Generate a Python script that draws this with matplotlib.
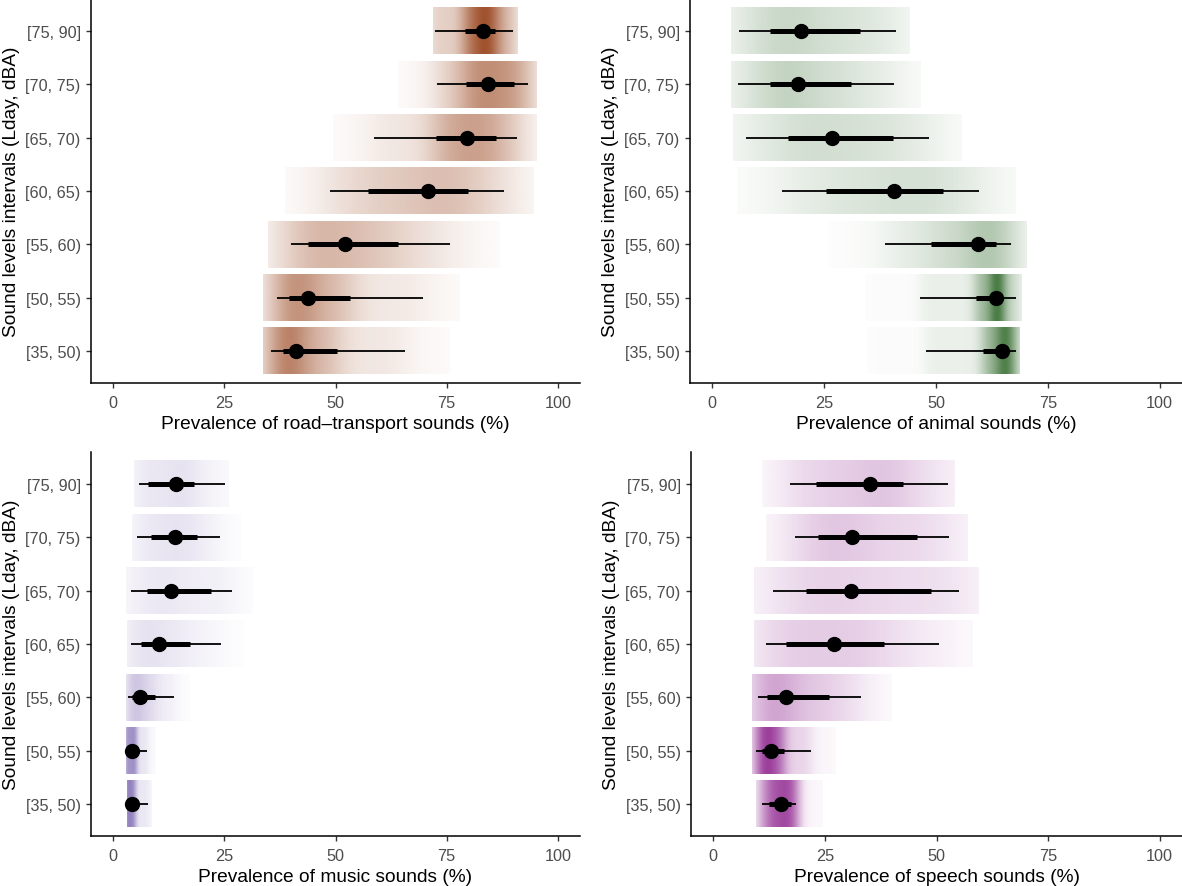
import numpy as np
import matplotlib
matplotlib.use("Agg")
import matplotlib.pyplot as plt
from matplotlib.colors import to_rgb

plt.rcParams['font.family'] = ['Liberation Sans', 'DejaVu Sans']

# sound level intervals, top row first
levels = ["[75, 90]", "[70, 75)", "[65, 70)", "[60, 65)", "[55, 60)", "[50, 55)", "[35, 50)"]

# road-transport
road_med = [83.1, 84.4, 79.6, 70.9, 52.1, 43.8, 41.2]
road_lo66 = [79.2, 79.3, 72.6, 57.3, 43.8, 39.6, 38.3]
road_hi66 = [85.9, 90.1, 86.0, 79.8, 64.0, 53.3, 50.4]
road_lo95 = [72.3, 72.8, 58.6, 48.7, 40.1, 36.8, 35.5]
road_hi95 = [89.9, 93.3, 90.8, 87.9, 75.7, 69.7, 65.6]
road_min = [72.0, 64.1, 49.4, 38.6, 34.9, 33.8, 33.8]
road_max = [91.1, 95.3, 95.1, 94.5, 87.0, 78.1, 75.8]

# animal
animal_med = [19.9, 19.2, 26.8, 40.6, 59.3, 63.4, 64.7]
animal_lo66 = [12.8, 12.8, 16.8, 25.5, 48.8, 58.9, 60.6]
animal_hi66 = [33.0, 30.9, 40.3, 51.6, 63.5, 64.1, 66.1]
animal_lo95 = [5.9, 5.7, 7.6, 15.6, 38.7, 46.5, 47.7]
animal_hi95 = [41.0, 40.5, 48.5, 59.6, 66.7, 67.8, 67.8]
animal_min = [4.2, 4.1, 4.6, 5.4, 25.9, 34.1, 34.5]
animal_max = [44.0, 46.4, 55.7, 67.6, 70.2, 69.1, 68.7]

# music
music_med = [14.2, 13.9, 13.1, 10.3, 6.0, 4.3, 4.2]
music_lo66 = [7.9, 8.4, 7.7, 6.2, 4.3, 3.1, 3.2]
music_hi66 = [18.1, 18.9, 21.9, 17.2, 9.5, 5.1, 5.0]
music_lo95 = [5.8, 5.3, 4.1, 3.9, 3.4, 3.0, 3.0]
music_hi95 = [25.1, 24.1, 26.8, 24.2, 13.6, 7.7, 7.9]
music_min = [4.7, 4.3, 2.8, 3.2, 2.8, 2.8, 3.2]
music_max = [26.0, 28.9, 31.2, 29.7, 17.0, 9.5, 8.7]

# speech
speech_med = [35.1, 31.1, 30.9, 27.1, 16.2, 13.0, 15.1]
speech_lo66 = [22.9, 23.5, 20.8, 16.2, 12.1, 11.0, 12.5]
speech_hi66 = [42.6, 45.6, 48.8, 38.2, 25.9, 15.8, 17.5]
speech_lo95 = [17.1, 18.3, 13.4, 11.7, 10.1, 9.6, 10.8]
speech_hi95 = [52.6, 52.7, 55.0, 50.6, 33.0, 21.8, 18.6]
speech_min = [11.0, 11.7, 9.1, 9.1, 8.7, 8.7, 9.5]
speech_max = [54.2, 56.8, 59.4, 58.0, 39.9, 27.4, 24.4]

panels = [
    ("road\u2013transport", "#A0522D",
     road_med, road_lo66, road_hi66, road_lo95, road_hi95, road_min, road_max),
    ("animal", "#4A7C45",
     animal_med, animal_lo66, animal_hi66, animal_lo95, animal_hi95, animal_min, animal_max),
    ("music", "#9482C0",
     music_med, music_lo66, music_hi66, music_lo95, music_hi95, music_min, music_max),
    ("speech", "#9C3E9C",
     speech_med, speech_lo66, speech_hi66, speech_lo95, speech_hi95, speech_min, speech_max),
]

W, H = 1182, 887
fig = plt.figure(figsize=(W / 100, H / 100), dpi=100)
boxes = [(91, 580, 0, 384), (690, 1182, 0, 384), (91, 580, 453, 837), (691, 1182, 453, 837)]

probs = [0.0, 0.025, 0.17, 0.5, 0.83, 0.975, 1.0]


def quantile_density(xs, qs, bw):
    # density implied by the read quantiles (piecewise linear cdf), smoothed
    cdf = np.interp(xs, qs, probs)
    step = xs[1] - xs[0]
    d = np.gradient(cdf, step)
    k = np.arange(-4 * bw, 4 * bw + step, step)
    kern = np.exp(-0.5 * (k / bw) ** 2)
    kern /= kern.sum()
    return np.convolve(d, kern, mode='same')


ypos = np.arange(len(levels), 0, -1)

for (name, color, med, lo66, hi66, lo95, hi95, mn, mx), (l, r, t, b) in zip(panels, boxes):
    ax = fig.add_axes([l / W, (H - b) / H, (r - l) / W, (b - t) / H])
    rgb = to_rgb(color)
    grid = np.arange(-15, 115, 0.02)
    dens = []
    for i in range(len(levels)):
        qs = [mn[i], lo95[i], lo66[i], med[i], hi66[i], hi95[i], mx[i]]
        bw = max(0.5, 0.25 * (hi66[i] - lo66[i]))
        dens.append(quantile_density(grid, qs, bw))
    dmax = max(d.max() for d in dens)
    for i, y in enumerate(ypos):
        keep = (grid >= mn[i]) & (grid <= mx[i])
        a = np.clip(dens[i][keep] / dmax, 0, 1) ** 0.85
        img = np.zeros((1, keep.sum(), 4))
        img[..., 0], img[..., 1], img[..., 2] = rgb
        img[0, :, 3] = a
        ax.imshow(img, extent=[mn[i], mx[i], y - 0.44, y + 0.44], aspect='auto',
                  interpolation='bilinear', zorder=1)
        ax.plot([lo95[i], hi95[i]], [y, y], color='black', lw=1.3, solid_capstyle='butt', zorder=2)
        ax.plot([lo66[i], hi66[i]], [y, y], color='black', lw=3.6, solid_capstyle='butt', zorder=3)
        ax.plot(med[i], y, 'o', color='black', ms=10, zorder=4)

    ax.set_xlim(-5, 105)
    ax.set_ylim(0.4, len(levels) + 0.6)
    ax.set_xticks([0, 25, 50, 75, 100])
    ax.set_yticks(ypos)
    ax.set_yticklabels(levels)
    for s in ['top', 'right']:
        ax.spines[s].set_visible(False)
    for s in ['left', 'bottom']:
        ax.spines[s].set_linewidth(1.1)
    ax.tick_params(axis='both', labelsize=11.7, labelcolor='#4D4D4D', color='#333333',
                   length=3.4, width=1)
    ax.tick_params(axis='x', pad=5.5)
    ax.tick_params(axis='y', pad=4)
    ax.set_xlabel("Prevalence of %s sounds (%%)" % name, fontsize=13.8, labelpad=3)
    ax.set_ylabel("Sound levels intervals (Lday, dBA)", fontsize=13.8, labelpad=4)

plt.savefig('out.png', dpi=100)
